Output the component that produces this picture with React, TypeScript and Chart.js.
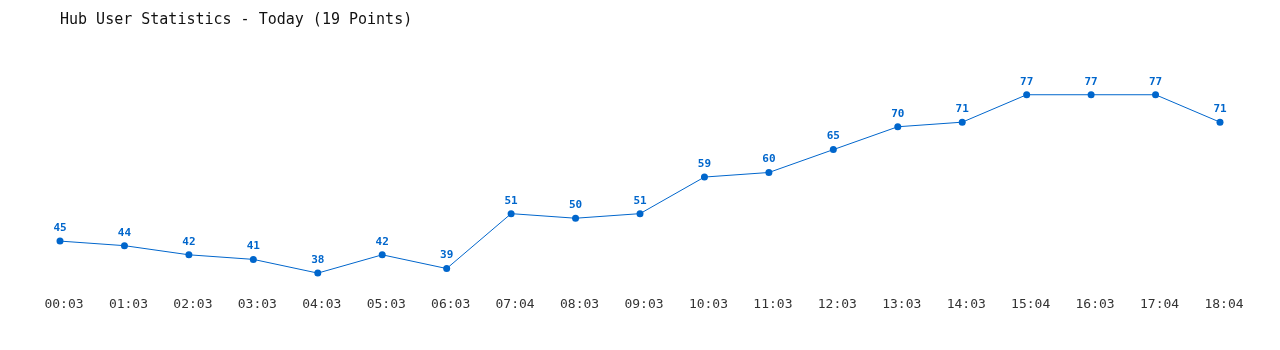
import React, { useEffect, useRef } from "react";
import { Chart, registerables } from "chart.js";

Chart.register(...registerables);

const TITLE = "Hub User Statistics - Today (19 Points)";
const categories = ["00:03", "01:03", "02:03", "03:03", "04:03", "05:03", "06:03", "07:04", "08:03", "09:03", "10:03", "11:03", "12:03", "13:03", "14:03", "15:04", "16:03", "17:04", "18:04"];
const users = [45, 44, 42, 41, 38, 42, 39, 51, 50, 51, 59, 60, 65, 70, 71, 77, 77, 77, 71];

const LINE = "#0066cc";
const MONO = "'DejaVu Sans Mono', 'Liberation Mono', monospace";

const valueLabels = {
  id: "valueLabels",
  afterDatasetsDraw(chart: any) {
    const ctx = chart.ctx;
    const meta = chart.getDatasetMeta(0);
    ctx.save();
    ctx.font = `bold 11px ${MONO}`;
    ctx.fillStyle = LINE;
    ctx.textAlign = "center";
    ctx.textBaseline = "middle";
    meta.data.forEach((pt: any, i: number) => {
      ctx.fillText(String(chart.data.datasets[0].data[i]), pt.x, pt.y - 13);
    });
    ctx.restore();
  },
};

export default function App() {
  const ref = useRef<HTMLCanvasElement>(null);
  useEffect(() => {
    document.body.style.margin = "0";
    const chart = new Chart(ref.current!, {
      type: "line",
      data: {
        labels: categories,
        datasets: [
          {
            data: users,
            borderColor: LINE,
            backgroundColor: LINE,
            borderWidth: 1,
            pointRadius: 3.5,
            pointBackgroundColor: LINE,
            pointBorderWidth: 0,
            tension: 0,
          },
        ],
      },
      options: {
        responsive: false,
        animation: false,
        layout: { padding: { left: 60, right: 60, top: 0, bottom: 33 } },
        plugins: {
          legend: { display: false },
          tooltip: { enabled: false },
          title: {
            display: true,
            text: TITLE,
            align: "start",
            color: "#111",
            font: { family: MONO, size: 15, weight: "normal" },
            padding: { top: 11, bottom: 20 },
          },
        },
        scales: {
          x: {
            offset: false,
            grid: { display: false, drawTicks: false },
            border: { display: false },
            ticks: { color: "#333", font: { family: MONO, size: 13 }, padding: 5, labelOffset: 4, maxRotation: 0, autoSkip: false },
          },
          y: {
            display: false,
            min: 34,
            max: 87,
          },
        },
      },
      plugins: [valueLabels],
    });
    return () => chart.destroy();
  }, []);
  return <canvas ref={ref} width={1280} height={350} style={{ display: "block" }} />;
}
